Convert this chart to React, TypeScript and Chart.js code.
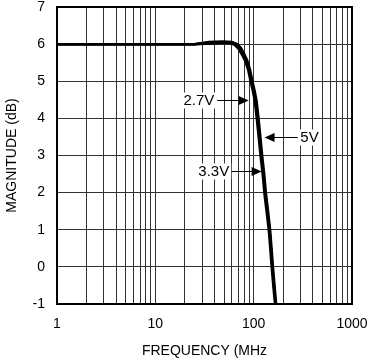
import React, { useEffect, useRef } from 'react';
import { Chart, registerables } from 'chart.js';
Chart.register(...registerables);

// Frequency response data (MHz, dB)
const freq27 = [1, 10, 25, 32, 45, 58, 64, 70, 76, 82, 88, 93, 98, 103, 108, 113, 118, 124, 129, 136, 143, 148, 153, 159, 165];
const mag27 = [6.0, 6.0, 6.0, 6.03, 6.04, 6.03, 5.98, 5.88, 5.72, 5.55, 5.3, 5.0, 4.75, 4.45, 3.95, 3.45, 2.95, 2.45, 1.95, 1.45, 0.95, 0.45, -0.05, -0.55, -1.0];

const freq33 = [1, 10, 25, 35, 48, 60, 66, 72, 78, 84, 90, 95, 100, 105, 110, 115, 120, 126, 131, 138, 145, 150, 155, 161, 167];
const mag33 = [6.0, 6.0, 6.0, 6.06, 6.07, 6.06, 6.0, 5.9, 5.75, 5.58, 5.32, 5.03, 4.78, 4.48, 4.0, 3.5, 3.0, 2.5, 2.0, 1.5, 1.0, 0.5, 0.0, -0.5, -1.0];

const freq5 = [1, 10, 25, 38, 50, 62, 68, 74, 80, 86, 92, 97, 102, 107, 112, 117, 122, 128, 133, 140, 147, 152, 157, 163, 169];
const mag5 = [6.0, 6.0, 6.0, 6.02, 6.05, 6.04, 6.0, 5.9, 5.74, 5.56, 5.3, 5.0, 4.76, 4.47, 4.0, 3.5, 3.0, 2.5, 2.0, 1.5, 1.0, 0.5, 0.0, -0.5, -1.0];

// Axis ticks
const xGridValues = [1, 2, 3, 4, 5, 6, 7, 8, 9, 10, 20, 30, 40, 50, 60, 70, 80, 90, 100, 200, 300, 400, 500, 600, 700, 800, 900, 1000];
const xTickLabels = [1, 10, 100, 1000];
const yMin = -1;
const yMax = 7;

// Annotations (data coordinates)
const annotTexts = ['2.7V', '5V', '3.3V'];
const annotLabelFreq = [27.7, 370, 39.3];
const annotLabelDb = [4.49, 3.5, 2.58];
const annotArrowFrom = [42.5, 280, 60];
const annotArrowTo = [89, 129, 120.5];

const FONT_FAMILY = '"Liberation Sans", Arial, Helvetica, sans-serif';

const framePlugin = {
  id: 'frameAndAnnotations',
  afterDraw(chart: any) {
    const { ctx, chartArea, scales } = chart;
    const xs = scales.x;
    const ys = scales.y;
    ctx.save();
    ctx.strokeStyle = '#000';
    ctx.lineWidth = 2;
    ctx.strokeRect(chartArea.left, chartArea.top, chartArea.right - chartArea.left, chartArea.bottom - chartArea.top);
    ctx.font = '15px ' + FONT_FAMILY;
    for (let i = 0; i < annotTexts.length; i++) {
      const tx = xs.getPixelForValue(annotLabelFreq[i]);
      const ty = Math.round(ys.getPixelForValue(annotLabelDb[i])) + 0.5;
      const w = ctx.measureText(annotTexts[i]).width;
      ctx.fillStyle = '#fff';
      ctx.fillRect(tx - w / 2 - 2, ty - 8, w + 4, 16);
      ctx.fillStyle = '#000';
      ctx.textAlign = 'center';
      ctx.textBaseline = 'middle';
      ctx.fillText(annotTexts[i], tx, ty);
      const x0 = xs.getPixelForValue(annotArrowFrom[i]);
      const x1 = xs.getPixelForValue(annotArrowTo[i]);
      const dir = Math.sign(x1 - x0);
      ctx.strokeStyle = '#000';
      ctx.lineWidth = 1;
      ctx.beginPath();
      ctx.moveTo(x0, ty);
      ctx.lineTo(x1 - dir * 8, ty);
      ctx.stroke();
      ctx.beginPath();
      ctx.moveTo(x1, ty);
      ctx.lineTo(x1 - dir * 10, ty - 4.5);
      ctx.lineTo(x1 - dir * 10, ty + 4.5);
      ctx.closePath();
      ctx.fill();
    }
    ctx.restore();
  },
};

function toPoints(fs: number[], ms: number[]) {
  return fs.map((f, i) => ({ x: f, y: ms[i] }));
}

export default function App() {
  const ref = useRef<HTMLCanvasElement>(null);
  useEffect(() => {
    document.body.style.margin = '0';
    if (!ref.current) return;
    const lineDs = (label: string, fs: number[], ms: number[]) => ({
      label,
      data: toPoints(fs, ms),
      borderColor: '#000',
      backgroundColor: '#000',
      borderWidth: 2.5,
      pointRadius: 0,
      tension: 0,
      fill: false,
    });
    const chart = new Chart(ref.current, {
      type: 'line',
      data: {
        datasets: [
          lineDs('2.7V', freq27, mag27),
          lineDs('3.3V', freq33, mag33),
          lineDs('5V', freq5, mag5),
        ],
      },
      options: {
        responsive: false,
        animation: false,
        devicePixelRatio: 1,
        layout: { padding: { top: 7, right: 17, left: 0, bottom: 0 } },
        plugins: { legend: { display: false }, tooltip: { enabled: false } },
        scales: {
          x: {
            type: 'logarithmic',
            min: 1,
            max: 1000,
            afterBuildTicks: (s: any) => {
              s.ticks = xGridValues.map((v) => ({ value: v }));
            },
            afterFit: (s: any) => {
              s.height = 58;
              s.paddingLeft = 0;
              s.paddingRight = 0;
            },
            ticks: {
              autoSkip: false,
              maxRotation: 0,
              padding: 12,
              color: '#000',
              font: { family: FONT_FAMILY, size: 14 },
              callback: (v: any) => (xTickLabels.includes(Number(v)) ? String(v) : ''),
            },
            grid: { color: '#333', lineWidth: 1, drawTicks: false },
            border: { display: false },
            title: {
              display: true,
              text: 'FREQUENCY (MHz',
              color: '#000',
              font: { family: FONT_FAMILY, size: 14 },
              padding: { top: 0, bottom: 2 },
            },
          },
          y: {
            type: 'linear',
            min: yMin,
            max: yMax,
            afterFit: (s: any) => {
              s.width = 57;
              s.paddingTop = 0;
              s.paddingBottom = 0;
            },
            ticks: {
              stepSize: 1,
              padding: 12,
              color: '#000',
              font: { family: FONT_FAMILY, size: 14, lineHeight: 1 },
            },
            grid: { color: '#333', lineWidth: 1, drawTicks: false },
            border: { display: false },
            title: {
              display: true,
              text: 'MAGNITUDE (dB)',
              color: '#000',
              font: { family: FONT_FAMILY, size: 14 },
              padding: { top: 4, bottom: 0 },
            },
          },
        },
      },
      plugins: [framePlugin],
    } as any);
    return () => chart.destroy();
  }, []);
  return (
    <div style={{ width: 369, height: 362 }}>
      <canvas ref={ref} width={369} height={362} style={{ width: 369, height: 362 }} />
    </div>
  );
}
